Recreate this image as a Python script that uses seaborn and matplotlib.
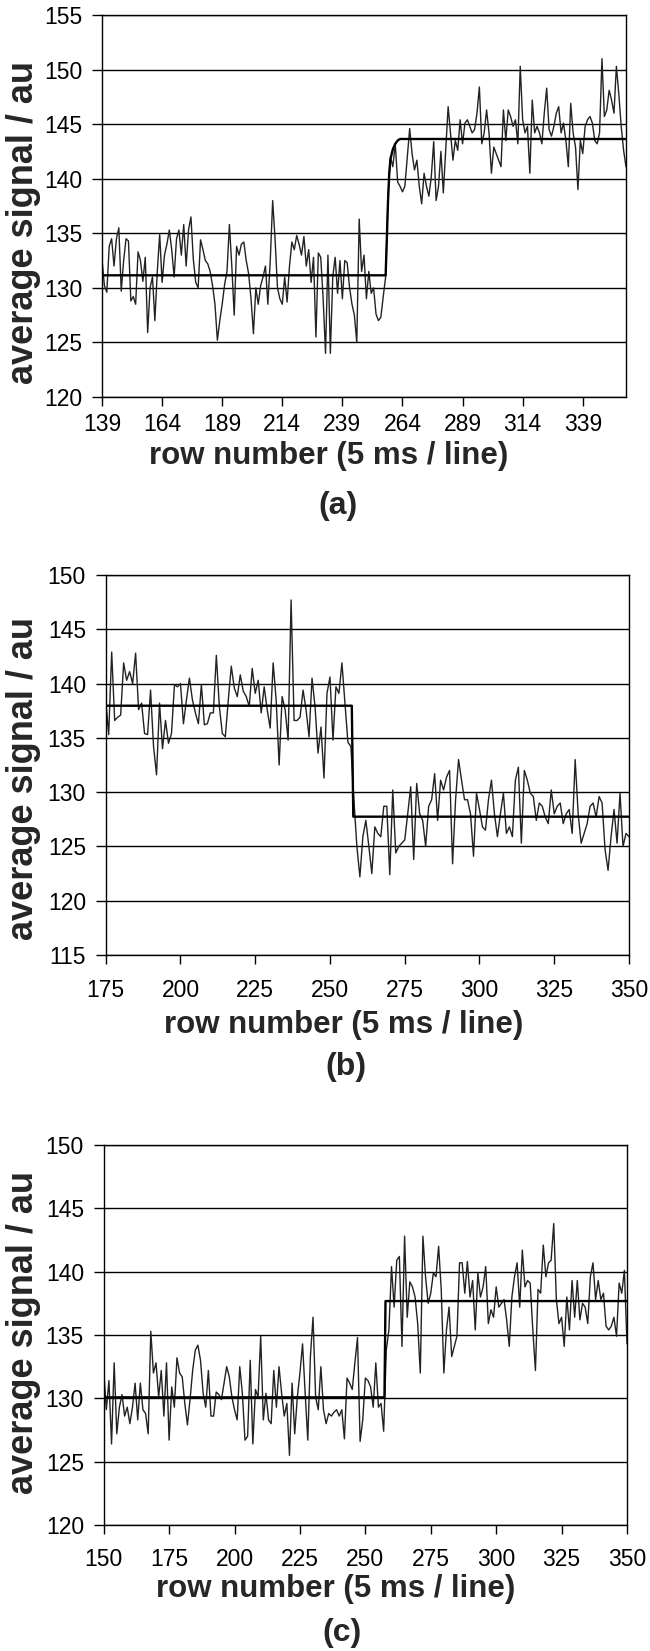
import matplotlib
matplotlib.use("Agg")
import matplotlib.pyplot as plt
import seaborn as sns
import numpy as np

# ---------------- data ----------------
rows_a = list(range(139, 358))
signal_a = [
    132.6, 130.2, 129.6, 133.8, 134.5, 132.0, 134.5, 135.5, 129.7, 132.5,
    134.5, 134.3, 128.8, 129.2, 128.5, 133.3, 132.5, 130.6, 132.8, 125.9,
    130.0, 131.0, 127.0, 131.5, 134.9, 130.5, 133.0, 134.0, 135.3, 133.5,
    131.0, 134.5, 135.3, 133.0, 135.8, 132.0, 135.3, 136.5, 132.6, 130.5,
    130.0, 134.4, 133.5, 132.5, 132.2, 131.5, 130.2, 128.5, 125.2, 127.0,
    128.5, 130.3, 131.5, 135.8, 132.0, 127.5, 133.8, 133.0, 134.0, 134.2,
    132.5, 131.3, 129.0, 125.8, 130.0, 128.5, 130.2, 131.0, 132.0, 128.5,
    132.5, 138.0, 134.5, 130.0, 129.0, 128.5, 131.0, 128.7, 132.0, 134.2,
    133.5, 134.8, 134.0, 133.0, 134.7, 132.0, 133.5, 130.5, 132.8, 125.5,
    133.2, 132.8, 129.0, 124.0, 133.0, 124.0, 131.0, 132.8, 129.5, 132.5,
    129.0, 132.5, 132.3, 130.0, 128.5, 127.5, 125.0, 136.3, 131.5, 133.0,
    129.0, 131.5, 129.5, 130.0, 127.6, 127.0, 127.3, 129.2, 131.0, 138.4,
    142.0, 141.1, 143.2, 139.7, 139.3, 138.8, 139.3, 142.0, 144.6, 142.3,
    140.8, 141.7, 139.3, 137.7, 140.5, 139.3, 138.4, 140.2, 143.4, 138.0,
    139.3, 142.5, 138.7, 142.6, 146.6, 144.1, 141.7, 143.5, 142.6, 145.4,
    143.2, 145.1, 145.4, 144.8, 144.2, 144.5, 146.0, 148.4, 143.2, 144.2,
    146.3, 144.2, 140.5, 142.9, 142.3, 141.7, 141.1, 146.3, 143.5, 146.3,
    145.7, 144.8, 145.4, 143.2, 150.3, 145.4, 144.2, 144.8, 140.5, 147.2,
    144.2, 144.8, 144.2, 143.2, 146.0, 148.3, 144.5, 143.9, 144.8, 146.0,
    146.6, 144.2, 145.1, 143.5, 141.1, 146.9, 144.2, 142.9, 139.0, 143.5,
    142.3, 144.8, 145.4, 145.7, 145.1, 143.5, 143.2, 144.2, 151.0, 145.7,
    146.3, 148.1, 147.2, 146.0, 150.3, 147.8, 144.8, 142.6, 141.1,
]
fit_x_a = [139, 257, 257.5, 258, 258.5, 259, 260, 261, 262, 263, 357]
fit_y_a = [131.15, 131.15, 134.5, 138.0, 140.5, 141.8, 142.7, 143.2, 143.5, 143.64, 143.64]

rows_b = list(range(175, 351))
signal_b = [
    138.5, 135.3, 142.9, 136.6, 136.9, 137.1, 141.9, 140.3, 141.1, 140.0,
    142.8, 137.6, 138.2, 135.4, 135.3, 139.4, 134.2, 131.6, 138.2, 134.0,
    136.6, 134.5, 135.4, 139.9, 139.7, 140.0, 136.3, 138.5, 140.5, 138.5,
    137.3, 136.3, 139.9, 136.2, 136.3, 137.3, 137.3, 142.6, 137.9, 135.4,
    135.1, 138.5, 141.6, 139.6, 138.8, 140.8, 139.3, 138.8, 137.9, 141.4,
    139.1, 140.3, 137.3, 139.7, 137.6, 135.9, 141.9, 138.5, 132.5, 138.8,
    137.6, 134.8, 147.7, 136.6, 136.6, 136.9, 139.4, 137.6, 135.1, 140.5,
    137.9, 133.6, 136.0, 131.3, 139.1, 140.6, 134.8, 139.7, 139.1, 141.9,
    138.2, 134.6, 134.2, 129.3, 125.0, 122.2, 125.9, 127.4, 125.0, 122.5,
    126.8, 126.2, 125.9, 128.7, 128.7, 122.4, 130.2, 124.4, 125.0, 125.3,
    125.6, 128.0, 130.5, 123.8, 130.8, 128.0, 127.4, 125.0, 128.7, 129.3,
    131.7, 127.4, 131.1, 130.2, 131.4, 132.0, 123.4, 129.3, 133.0, 131.1,
    129.3, 129.3, 128.0, 124.1, 129.9, 128.4, 126.8, 126.5, 129.3, 131.1,
    128.0, 125.9, 128.0, 129.9, 126.2, 126.8, 125.9, 131.1, 132.3, 125.3,
    132.0, 131.1, 129.9, 129.6, 127.4, 129.0, 128.7, 127.7, 127.1, 130.2,
    128.0, 128.7, 129.0, 127.1, 128.0, 128.4, 126.2, 133.0, 128.0, 125.3,
    126.2, 127.1, 128.7, 129.0, 127.7, 129.6, 129.0, 124.7, 122.8, 125.9,
    128.4, 125.3, 129.9, 125.0, 126.2, 125.9,
]
fit_x_b = [175, 257.3, 257.8, 350]
fit_y_b = [137.96, 137.96, 127.74, 127.74]

rows_c = list(range(150, 351))
signal_c = [
    132.2, 129.1, 131.4, 126.4, 132.8, 127.2, 129.3, 130.3, 128.6, 129.3,
    128.0, 129.3, 131.2, 128.3, 131.2, 129.1, 128.8, 127.2, 135.3, 132.0,
    132.8, 130.1, 132.2, 128.6, 132.8, 126.7, 130.9, 129.3, 133.2, 132.0,
    131.7, 129.6, 127.9, 129.9, 132.2, 133.8, 134.2, 133.0, 130.4, 129.3,
    132.2, 128.6, 128.6, 130.5, 130.3, 129.9, 131.2, 132.5, 131.7, 130.1,
    129.1, 128.3, 132.5, 130.4, 126.7, 127.0, 133.0, 126.4, 130.7, 130.1,
    134.9, 128.3, 130.4, 128.3, 128.0, 132.2, 129.3, 132.5, 130.4, 128.6,
    129.6, 125.5, 131.2, 127.2, 130.1, 132.0, 134.3, 130.4, 126.7, 133.3,
    136.4, 130.1, 129.1, 132.5, 129.1, 128.0, 128.8, 128.6, 128.9, 129.1,
    128.6, 129.1, 126.8, 131.6, 131.2, 130.7, 132.8, 134.8, 126.6, 128.3,
    131.6, 131.4, 130.9, 129.3, 132.8, 129.3, 129.6, 127.4, 133.8, 135.4,
    140.4, 137.2, 140.9, 141.2, 134.1, 142.8, 136.4, 139.2, 138.8, 138.0,
    135.9, 132.0, 142.8, 139.6, 137.5, 138.3, 139.9, 139.6, 142.0, 138.6,
    132.0, 135.4, 137.2, 133.3, 134.1, 134.9, 140.7, 140.7, 138.3, 140.8,
    138.0, 139.3, 135.4, 139.9, 138.0, 138.8, 140.4, 135.9, 137.0, 136.4,
    138.8, 137.2, 137.5, 137.8, 136.2, 134.1, 138.0, 139.6, 140.7, 137.2,
    141.7, 138.8, 139.3, 139.1, 135.4, 132.2, 138.6, 138.3, 142.1, 139.6,
    140.7, 140.9, 143.8, 137.8, 135.9, 136.4, 134.1, 138.0, 135.4, 139.3,
    136.4, 139.3, 136.2, 137.5, 137.2, 135.9, 139.6, 140.7, 137.8, 139.3,
    137.8, 138.3, 135.7, 135.4, 135.7, 136.4, 134.9, 139.1, 138.3, 140.1,
    134.3,
]
fit_x_c = [150, 257.3, 257.7, 350]
fit_y_c = [130.08, 130.08, 137.68, 137.68]

xticks_a = [139, 164, 189, 214, 239, 264, 289, 314, 339]
xticks_b = [175, 200, 225, 250, 275, 300, 325, 350]
xticks_c = [150, 175, 200, 225, 250, 275, 300, 325, 350]
yticks_a = [120, 125, 130, 135, 140, 145, 150, 155]
yticks_b = [115, 120, 125, 130, 135, 140, 145, 150]
yticks_c = [120, 125, 130, 135, 140, 145, 150]

x_label = "row number (5 ms / line)"
y_label = "average signal / au"
panel_labels = ["(a)", "(b)", "(c)"]

# ---------------- style ----------------
sns.set_style("white")
plt.rcParams["font.family"] = ["Liberation Sans", "DejaVu Sans"]

W, H = 650, 1651
fig = plt.figure(figsize=(W / 100, H / 100), dpi=100)


def rect(l, r, t, b):
    return [l / W, 1 - b / H, (r - l) / W, (b - t) / H]


panels = [
    dict(rows=rows_a, sig=signal_a, fx=fit_x_a, fy=fit_y_a, xlim=(139, 357),
         ylim=(120, 155), xt=xticks_a, yt=yticks_a,
         box=(102, 626, 15, 397), xpad=5, xl=(329, 456), pl=(338, 506), yl=223),
    dict(rows=rows_b, sig=signal_b, fx=fit_x_b, fy=fit_y_b, xlim=(175, 350),
         ylim=(115, 150), xt=xticks_b, yt=yticks_b,
         box=(105.7, 629, 575, 955), xpad=11, xl=(344, 1025), pl=(346, 1067), yl=779),
    dict(rows=rows_c, sig=signal_c, fx=fit_x_c, fy=fit_y_c, xlim=(150, 350),
         ylim=(120, 150), xt=xticks_c, yt=yticks_c,
         box=(103.7, 627, 1145, 1525), xpad=10, xl=(336, 1589), pl=(342, 1633), yl=1332),
]

for p, lab in zip(panels, panel_labels):
    l, r, t, b = p["box"]
    ax = fig.add_axes(rect(l, r, t, b))
    ax.set_axisbelow(True)
    ax.yaxis.grid(True, color="black", linewidth=1.0)
    ax.xaxis.grid(False)
    sns.lineplot(x=p["rows"], y=p["sig"], ax=ax, color="#222222", linewidth=1.0,
                 estimator=None, sort=False, legend=False)
    sns.lineplot(x=p["fx"], y=p["fy"], ax=ax, color="black", linewidth=1.7,
                 estimator=None, sort=False, legend=False)
    ax.set_xlim(*p["xlim"])
    ax.set_ylim(*p["ylim"])
    ax.set_xticks(p["xt"])
    ax.set_yticks(p["yt"])
    ax.set_xlabel("")
    ax.set_ylabel("")
    for s in ax.spines.values():
        s.set_visible(True)
        s.set_color("black")
        s.set_linewidth(1.0)
    ax.tick_params(axis="x", direction="out", length=6.3, width=1.0, color="black",
                   pad=p["xpad"], labelsize=16.5, labelcolor="black", bottom=True)
    ax.tick_params(axis="y", direction="out", length=7.2, width=1.0, color="black",
                   pad=7, labelsize=16.5, labelcolor="black", left=True)
    fig.text(p["xl"][0] / W, 1 - p["xl"][1] / H, x_label, ha="center", va="center",
             fontsize=22.5, fontweight="bold")
    fig.text(p["pl"][0] / W, 1 - p["pl"][1] / H, lab, ha="center", va="center",
             fontsize=23, fontweight="bold")
    fig.text(23.5 / W, 1 - p["yl"] / H, y_label, ha="center", va="center",
             rotation=90, fontsize=26, fontweight="bold")

fig.savefig("out.png", dpi=100, facecolor="white")
